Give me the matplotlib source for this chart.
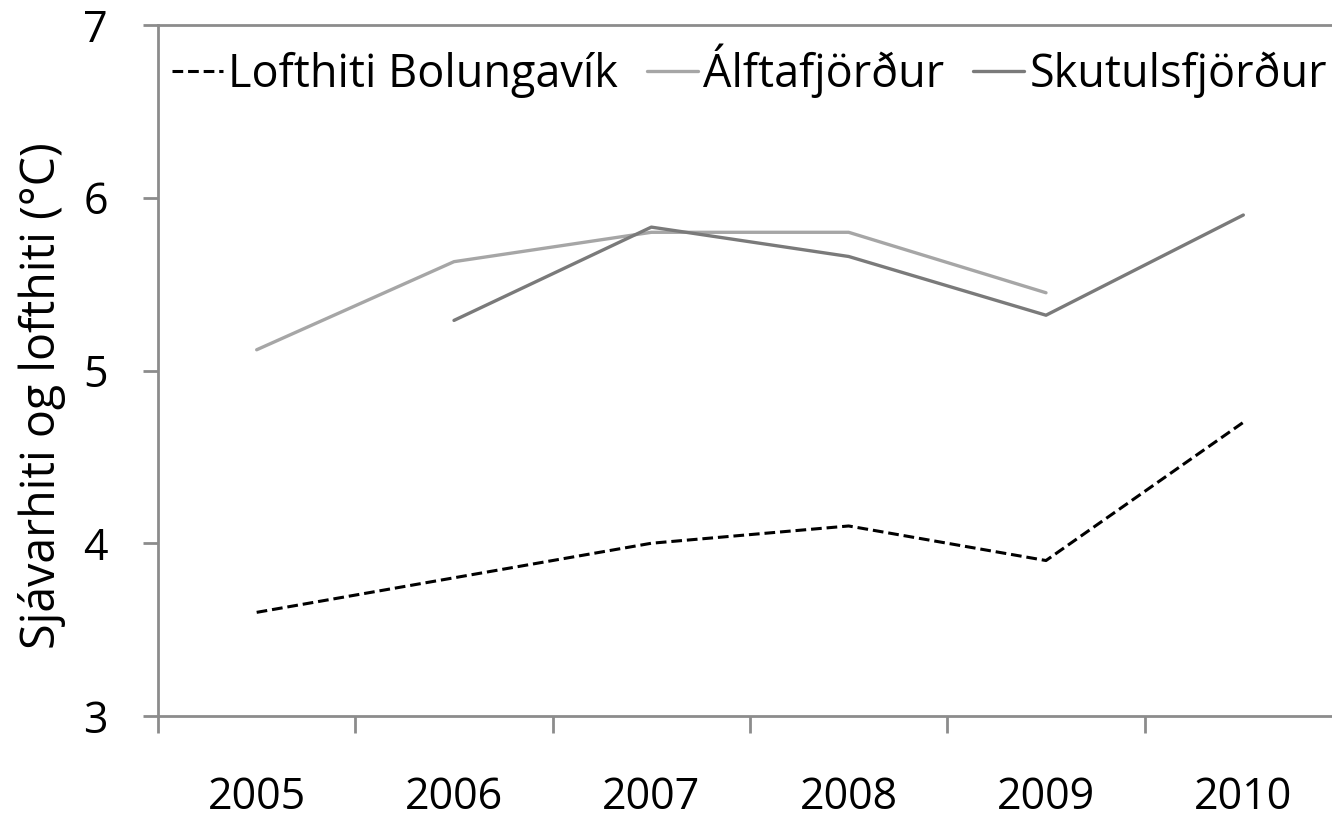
import matplotlib.pyplot as plt
import numpy as np

plt.rcParams['font.family'] = ['Open Sans', 'DejaVu Sans']

## data
years = ['2005', '2006', '2007', '2008', '2009', '2010']
lofthiti = [3.6, 3.8, 4.0, 4.1, 3.9, 4.7]
alftafjordur = [5.12, 5.63, 5.80, 5.80, 5.45, np.nan]
skutulsfjordur = [np.nan, 5.29, 5.83, 5.66, 5.32, 5.90]

axis_col = '#8c8c8c'
fs = 31

fig = plt.figure(figsize=(13.32, 8.18), dpi=100)
ax = fig.add_axes([158/1332, 102/818, 1184/1332, 691/818])

x = np.arange(len(years))
ax.plot(x, lofthiti, color='black', lw=2.2, dashes=(3.5, 1.6), label='Lofthiti Bolungavík')
ax.plot(x, alftafjordur, color='#a6a6a6', lw=2.4, label='Álftafjörður', solid_capstyle='round')
ax.plot(x, skutulsfjordur, color='#7a7a7a', lw=2.4, label='Skutulsfjörður', solid_capstyle='round')

ax.set_xlim(-0.5, 5.5)
ax.set_ylim(3, 7)
ax.set_yticks([3, 4, 5, 6, 7])
ax.set_xticks(x)
ax.set_xticklabels(years)
ax.set_xticks(np.arange(-0.5, 6, 1), minor=True)

ax.tick_params(axis='x', which='major', length=0, pad=43, labelsize=fs)
ax.tick_params(axis='x', which='minor', length=12, width=2, color=axis_col, direction='out')
ax.tick_params(axis='y', length=11, width=2, color=axis_col, direction='out', pad=25, labelsize=fs)

for s in ['left', 'bottom', 'top']:
    ax.spines[s].set_color(axis_col)
    ax.spines[s].set_linewidth(2)
ax.spines['right'].set_visible(False)

ax.set_ylabel('Sjávarhiti og lofthiti (°C)', fontsize=33.5)
ax.yaxis.set_label_coords(-0.078, 0.463)

leg = ax.legend(loc='upper left', bbox_to_anchor=(172/1332, 1 - 43/818),
                bbox_transform=fig.transFigure, ncol=3, frameon=False,
                fontsize=32.4, handlelength=1.13, handletextpad=0.12,
                columnspacing=0.64, borderpad=0, borderaxespad=0)

fig.savefig('out.png', dpi=100)
